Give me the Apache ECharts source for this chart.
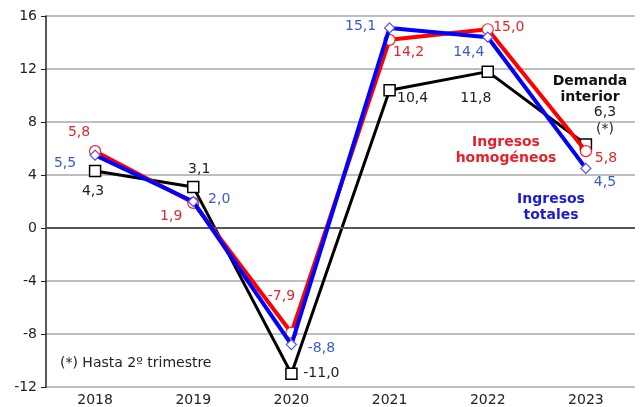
<!DOCTYPE html>
<html>
<head>
<meta charset="utf-8">
<script src="https://cdn.jsdelivr.net/npm/echarts@6/dist/echarts.min.js"></script>
<style>html,body{margin:0;padding:0;background:#fff}#c{width:642px;height:407px}</style>
</head>
<body>
<div id="c"></div>
<script>
const categories = ['2018', '2019', '2020', '2021', '2022', '2023'];
const demandaInterior = [4.3, 3.1, -11.0, 10.4, 11.8, 6.3];
const ingresosHomogeneos = [5.8, 1.9, -7.9, 14.2, 15.0, 5.8];
const ingresosTotales = [5.5, 2.0, -8.8, 15.1, 14.4, 4.5];
const demandaLabels = ['4,3', '3,1', '-11,0', '10,4', '11,8', '6,3\n(*)'];
const homogLabels = ['5,8', '1,9', '-7,9', '14,2', '15,0', '5,8'];
const totalLabels = ['5,5', '2,0', '-8,8', '15,1', '14,4', '4,5'];

const demandaOffsets = [[-2, 20], [6, -18], [30, 0], [23, 8], [-12, 27], [19, -24]];
const homogOffsets = [[-16, -19], [-22, 14], [-10, -36], [19, 13], [21, -2], [20, 7]];
const totalOffsets = [[-30, 8], [26, -2], [30, 4], [-29, -2], [-19, 15], [19, 14]];

const FONT = 'DejaVu Sans';
function build(values, labels, offsets, color) {
  return values.map((v, i) => ({
    value: v,
    label: {
      show: true, formatter: labels[i], position: 'inside', offset: offsets[i],
      color: color, fontSize: 14, fontFamily: FONT, lineHeight: 17, align: 'center', verticalAlign: 'middle'
    }
  }));
}

const chart = echarts.init(document.getElementById('c'));
chart.setOption({
  animation: false,
  backgroundColor: '#fff',
  grid: { left: 46, right: 7, top: 16, bottom: 18, containLabel: false },
  xAxis: {
    type: 'category', data: categories, boundaryGap: true,
    axisLine: { show: false }, axisTick: { show: false },
    axisLabel: { fontSize: 14, fontFamily: FONT, color: '#222', margin: 6 }
  },
  yAxis: {
    type: 'value', min: -12, max: 16, interval: 4,
    axisLine: { show: true, lineStyle: { color: '#222', width: 1.5 } },
    axisTick: { show: true, length: 5, lineStyle: { color: '#222' } },
    axisLabel: { fontSize: 14, fontFamily: FONT, color: '#222', margin: 9 },
    splitLine: { lineStyle: { color: '#a8a8a8', width: 1.5 } }
  },
  series: [
    {
      name: 'Demanda interior', type: 'line', data: build(demandaInterior, demandaLabels, demandaOffsets, '#222'),
      symbol: 'rect', symbolSize: 11, z: 3,
      lineStyle: { color: '#000', width: 3 },
      itemStyle: { color: '#fff', borderColor: '#000', borderWidth: 1.5 },
      markLine: {
        silent: true, symbol: 'none', label: { show: false },
        lineStyle: { color: '#555', width: 2, type: 'solid' },
        data: [{ yAxis: 0 }]
      }
    },
    {
      name: 'Ingresos homogéneos', type: 'line', data: build(ingresosHomogeneos, homogLabels, homogOffsets, '#e3262c'),
      symbol: 'circle', symbolSize: 11, z: 4,
      lineStyle: { color: '#ff0000', width: 4 },
      itemStyle: { color: '#fff', borderColor: '#ff2020', borderWidth: 1.2 }
    },
    {
      name: 'Ingresos totales', type: 'line', data: build(ingresosTotales, totalLabels, totalOffsets, '#3a5cc8'),
      symbol: 'diamond', symbolSize: 10, z: 5,
      lineStyle: { color: '#0000ff', width: 4 },
      itemStyle: { color: '#fff', borderColor: '#5050ff', borderWidth: 1.2 }
    }
  ],
  graphic: [
    { type: 'text', x: 590, y: 73, z: 10, style: { text: 'Demanda\ninterior', fill: '#111', font: 'bold 14px "DejaVu Sans"', textAlign: 'center', lineHeight: 16 } },
    { type: 'text', x: 506, y: 134, z: 10, style: { text: 'Ingresos\nhomogéneos', fill: '#e8202a', font: 'bold 14px "DejaVu Sans"', textAlign: 'center', lineHeight: 16 } },
    { type: 'text', x: 551, y: 191, z: 10, style: { text: 'Ingresos\ntotales', fill: '#1a1ad8', font: 'bold 14px "DejaVu Sans"', textAlign: 'center', lineHeight: 16 } },
    { type: 'text', x: 60, y: 356, z: 10, style: { text: '(*) Hasta 2º trimestre', fill: '#222', font: '14px "DejaVu Sans"' } }
  ]
});
</script>
</body>
</html>
